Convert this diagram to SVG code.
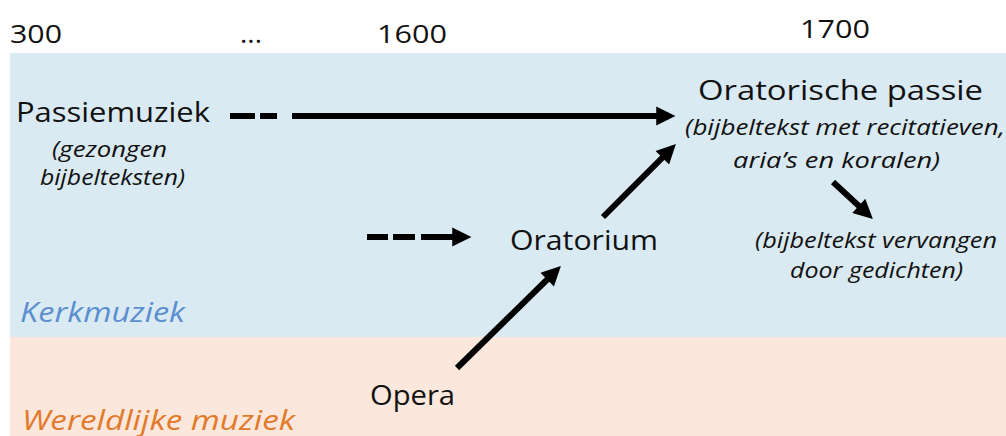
<svg xmlns="http://www.w3.org/2000/svg" width="1006" height="436" viewBox="0 0 1006 436">
  <style>
    .t { font-family: "Open Sans", "Liberation Sans", sans-serif; fill: #111; }
    .big { font-size: 28px; }
    .yr { font-size: 26px; }
    .note { font-size: 21px; font-style: italic; }
    .band { font-size: 28px; font-style: italic; }
    .ln { stroke: #000; stroke-width: 6; fill: none; }
  </style>
  <defs>
    <marker id="head" viewBox="0 0 10 10" refX="3" refY="5" markerWidth="3.5" markerHeight="3.2" orient="auto" markerUnits="strokeWidth">
      <path d="M0,0 L10,5 L0,10 z" fill="#000"/>
    </marker>
  </defs>

  <!-- background bands -->
  <rect x="0" y="0" width="1006" height="436" fill="#ffffff"/>
  <rect x="10" y="53" width="996" height="284" fill="#daeaf2"/>
  <rect x="10" y="337" width="996" height="99" fill="#fbe7db"/>

  <!-- timeline -->
  <g id="timeline">
    <text class="t yr" x="10" y="43" textLength="52" lengthAdjust="spacingAndGlyphs">300</text>
    <text class="t yr" x="240" y="43" textLength="22" lengthAdjust="spacingAndGlyphs">...</text>
    <text class="t yr" x="377" y="43" textLength="70" lengthAdjust="spacingAndGlyphs">1600</text>
    <text class="t yr" x="800" y="38" textLength="70" lengthAdjust="spacingAndGlyphs">1700</text>
  </g>

  <!-- nodes -->
  <g id="passiemuziek">
    <text class="t big" x="16" y="122" textLength="194" lengthAdjust="spacingAndGlyphs">Passiemuziek</text>
    <text class="t note" x="52" y="157" textLength="115" lengthAdjust="spacingAndGlyphs">(gezongen</text>
    <text class="t note" x="40" y="185" textLength="145" lengthAdjust="spacingAndGlyphs">bijbelteksten)</text>
  </g>

  <g id="oratorische-passie">
    <text class="t big" x="698" y="100" textLength="285" lengthAdjust="spacingAndGlyphs">Oratorische passie</text>
    <text class="t note" x="685" y="135" textLength="320" lengthAdjust="spacingAndGlyphs">(bijbeltekst met recitatieven,</text>
    <text class="t note" x="733" y="168" textLength="207" lengthAdjust="spacingAndGlyphs">aria’s en koralen)</text>
  </g>

  <g id="gedichten">
    <text class="t note" x="755" y="248" textLength="242" lengthAdjust="spacingAndGlyphs">(bijbeltekst vervangen</text>
    <text class="t note" x="790" y="278" textLength="173" lengthAdjust="spacingAndGlyphs">door gedichten)</text>
  </g>

  <g id="oratorium">
    <text class="t big" x="510" y="250" textLength="148" lengthAdjust="spacingAndGlyphs">Oratorium</text>
  </g>

  <g id="opera">
    <text class="t big" x="370" y="405" textLength="85" lengthAdjust="spacingAndGlyphs">Opera</text>
  </g>

  <g id="kerkmuziek">
    <text class="t band" x="20" y="322" style="fill:#5b8fd0" textLength="165" lengthAdjust="spacingAndGlyphs">Kerkmuziek</text>
  </g>

  <g id="wereldlijke-muziek">
    <text class="t band" x="22" y="430" style="fill:#e27a2c" textLength="273" lengthAdjust="spacingAndGlyphs">Wereldlijke muziek</text>
  </g>

  <!-- connectors -->
  <g id="connectors">
    <!-- Passiemuziek to Oratorische passie -->
    <line class="ln" x1="230" y1="116" x2="255" y2="116"/>
    <line class="ln" x1="260" y1="116" x2="277" y2="116"/>
    <line class="ln" x1="292" y1="116" x2="662" y2="116" marker-end="url(#head)"/>
    <!-- into Oratorium -->
    <line class="ln" x1="367" y1="237" x2="388" y2="237"/>
    <line class="ln" x1="393" y1="237" x2="415" y2="237"/>
    <line class="ln" x1="421" y1="237" x2="458" y2="237" marker-end="url(#head)"/>
    <!-- Oratorium to Oratorische passie -->
    <line class="ln" x1="603" y1="217" x2="666.4" y2="153.6" marker-end="url(#head)"/>
    <!-- Opera to Oratorium -->
    <line class="ln" x1="457" y1="368" x2="551.3" y2="275.5" marker-end="url(#head)"/>
    <!-- passie to gedichten -->
    <line class="ln" x1="833" y1="182" x2="863" y2="209.8" marker-end="url(#head)"/>
  </g>
</svg>
